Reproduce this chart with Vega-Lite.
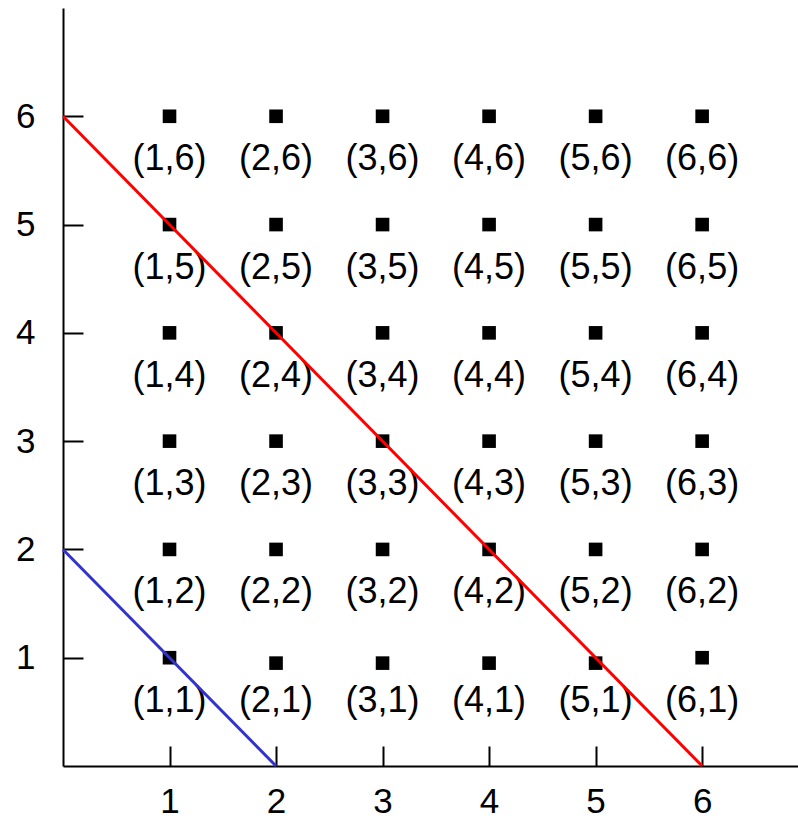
{
  "$schema": "https://vega.github.io/schema/vega-lite/v6.json",
  "width": 735,
  "height": 758,
  "autosize": {"type": "none"},
  "padding": {"left": 63, "top": 8, "right": 0, "bottom": 54},
  "background": "white",
  "config": {
    "view": {"stroke": null},
    "font": "Liberation Sans",
    "axis": {
      "grid": false,
      "title": null,
      "domainColor": "black",
      "domainWidth": 2,
      "tickColor": "black",
      "tickWidth": 2,
      "tickSize": -20,
      "labelColor": "black",
      "labelFont": "Liberation Sans",
      "labelFontSize": 35
    }
  },
  "datasets": {
    "outcomes": [
      {"i": 1, "j": 1, "py": 1.0, "label": "(1,1)"},
      {"i": 2, "j": 1, "py": 0.95, "label": "(2,1)"},
      {"i": 3, "j": 1, "py": 0.95, "label": "(3,1)"},
      {"i": 4, "j": 1, "py": 0.95, "label": "(4,1)"},
      {"i": 5, "j": 1, "py": 0.95, "label": "(5,1)"},
      {"i": 6, "j": 1, "py": 1.0, "label": "(6,1)"},
      {"i": 1, "j": 2, "py": 2, "label": "(1,2)"},
      {"i": 2, "j": 2, "py": 2, "label": "(2,2)"},
      {"i": 3, "j": 2, "py": 2, "label": "(3,2)"},
      {"i": 4, "j": 2, "py": 2, "label": "(4,2)"},
      {"i": 5, "j": 2, "py": 2, "label": "(5,2)"},
      {"i": 6, "j": 2, "py": 2, "label": "(6,2)"},
      {"i": 1, "j": 3, "py": 3, "label": "(1,3)"},
      {"i": 2, "j": 3, "py": 3, "label": "(2,3)"},
      {"i": 3, "j": 3, "py": 3, "label": "(3,3)"},
      {"i": 4, "j": 3, "py": 3, "label": "(4,3)"},
      {"i": 5, "j": 3, "py": 3, "label": "(5,3)"},
      {"i": 6, "j": 3, "py": 3, "label": "(6,3)"},
      {"i": 1, "j": 4, "py": 4, "label": "(1,4)"},
      {"i": 2, "j": 4, "py": 4, "label": "(2,4)"},
      {"i": 3, "j": 4, "py": 4, "label": "(3,4)"},
      {"i": 4, "j": 4, "py": 4, "label": "(4,4)"},
      {"i": 5, "j": 4, "py": 4, "label": "(5,4)"},
      {"i": 6, "j": 4, "py": 4, "label": "(6,4)"},
      {"i": 1, "j": 5, "py": 5, "label": "(1,5)"},
      {"i": 2, "j": 5, "py": 5, "label": "(2,5)"},
      {"i": 3, "j": 5, "py": 5, "label": "(3,5)"},
      {"i": 4, "j": 5, "py": 5, "label": "(4,5)"},
      {"i": 5, "j": 5, "py": 5, "label": "(5,5)"},
      {"i": 6, "j": 5, "py": 5, "label": "(6,5)"},
      {"i": 1, "j": 6, "py": 6, "label": "(1,6)"},
      {"i": 2, "j": 6, "py": 6, "label": "(2,6)"},
      {"i": 3, "j": 6, "py": 6, "label": "(3,6)"},
      {"i": 4, "j": 6, "py": 6, "label": "(4,6)"},
      {"i": 5, "j": 6, "py": 6, "label": "(5,6)"},
      {"i": 6, "j": 6, "py": 6, "label": "(6,6)"}
    ],
    "sumLines": [
      {"line": "sum6", "x": 0, "y": 6},
      {"line": "sum6", "x": 6, "y": 0},
      {"line": "sum2", "x": 0, "y": 2},
      {"line": "sum2", "x": 2, "y": 0}
    ]
  },
  "layer": [
    {
      "data": {"name": "outcomes"},
      "mark": {"type": "square", "filled": true, "color": "black", "size": 185, "opacity": 1},
      "encoding": {
        "x": {
          "field": "i", "type": "quantitative",
          "scale": {"domain": [0, 6.9], "nice": false, "zero": false},
          "axis": {"values": [1, 2, 3, 4, 5, 6], "format": "d", "labelFontSize": 35, "labelPadding": 38, "labelFlush": false}
        },
        "y": {
          "field": "py", "type": "quantitative",
          "scale": {"domain": [0, 7], "nice": false, "zero": false},
          "axis": {"values": [1, 2, 3, 4, 5, 6], "format": "d", "labelFontSize": 35, "labelPadding": 48, "labelFlush": false}
        }
      }
    },
    {
      "data": {"name": "outcomes"},
      "mark": {"type": "text", "fontSize": 36, "color": "black", "baseline": "middle", "align": "center", "dy": 43},
      "encoding": {
        "x": {"field": "i", "type": "quantitative"},
        "y": {"field": "j", "type": "quantitative"},
        "text": {"field": "label", "type": "nominal"}
      }
    },
    {
      "data": {"name": "sumLines"},
      "mark": {"type": "line", "strokeWidth": 3, "clip": false},
      "encoding": {
        "x": {"field": "x", "type": "quantitative"},
        "y": {"field": "y", "type": "quantitative"},
        "color": {
          "field": "line", "type": "nominal",
          "scale": {"domain": ["sum6", "sum2"], "range": ["#ff0000", "#3333cc"]},
          "legend": null
        },
        "order": {"field": "x", "type": "quantitative"}
      }
    }
  ]
}
